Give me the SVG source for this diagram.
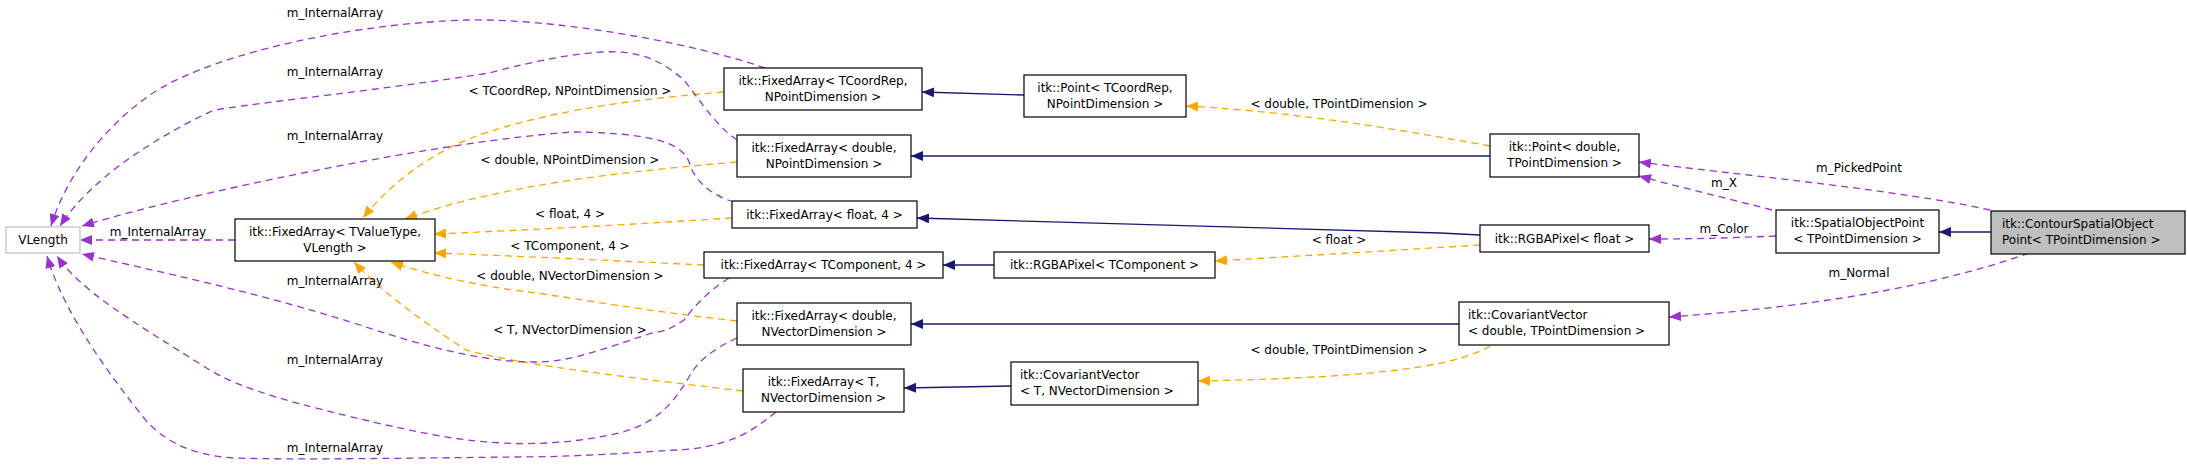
<svg xmlns="http://www.w3.org/2000/svg" width="2187" height="465" viewBox="0 0 2187 465">
<style>
text{font-family:"DejaVu Sans",sans-serif;font-size:12px;fill:#000}
.n rect{fill:#fff;stroke:#000;stroke-width:1.2}
.c{text-anchor:middle}
.e path{fill:none;stroke-width:1.3}
.p{stroke:#9a32cd;stroke-dasharray:7,5}
.o{stroke:#ffa500;stroke-dasharray:7,5}
.b{stroke:#191970}
</style>
<defs>
<marker id="mp" markerUnits="userSpaceOnUse" markerWidth="13" markerHeight="10" refX="12" refY="5" orient="auto"><path d="M0,0L12,5L0,10z" fill="#9a32cd"/></marker>
<marker id="mo" markerUnits="userSpaceOnUse" markerWidth="13" markerHeight="10" refX="12" refY="5" orient="auto"><path d="M0,0L12,5L0,10z" fill="#ffa500"/></marker>
<marker id="mb" markerUnits="userSpaceOnUse" markerWidth="13" markerHeight="10" refX="12" refY="5" orient="auto"><path d="M0,0L12,5L0,10z" fill="#191970"/></marker>
</defs>
<g class="e" id="edges">
<path class="b" marker-end="url(#mb)" d="M1024,95L922,92"/>
<path class="b" marker-end="url(#mb)" d="M1490,156L911,156"/>
<path class="b" marker-end="url(#mb)" d="M1480,235L1440,233L917,218"/>
<path class="b" marker-end="url(#mb)" d="M994,265L943,265"/>
<path class="b" marker-end="url(#mb)" d="M1459,324L911,324"/>
<path class="b" marker-end="url(#mb)" d="M1011,386L904,388"/>
<path class="b" marker-end="url(#mb)" d="M1991,232L1939,232"/>
<path class="o" marker-end="url(#mo)" d="M724,92C620,100 530,115 466,140C420,160 385,190 363,218"/>
<path class="o" marker-end="url(#mo)" d="M737,162C620,172 500,185 405,219"/>
<path class="o" marker-end="url(#mo)" d="M732,218C640,224 530,230 434,234"/>
<path class="o" marker-end="url(#mo)" d="M704,265C620,261 520,256 434,253"/>
<path class="o" marker-end="url(#mo)" d="M737,321C620,308 560,295 512,290C460,282 420,272 391,262"/>
<path class="o" marker-end="url(#mo)" d="M743,391C650,380 520,365 466,350C420,320 380,290 354,262"/>
<path class="o" marker-end="url(#mo)" d="M1490,146C1400,130 1300,112 1186,106"/>
<path class="o" marker-end="url(#mo)" d="M1480,245C1400,250 1300,256 1215,261"/>
<path class="o" marker-end="url(#mo)" d="M1490,346C1450,370 1350,378 1198,381"/>
<path class="p" marker-end="url(#mp)" d="M1990,210C1900,190 1740,175 1639,162"/>
<path class="p" marker-end="url(#mp)" d="M1772,210C1726,198 1683,188 1639,176"/>
<path class="p" marker-end="url(#mp)" d="M1776,236C1726,238 1697,239 1649,239"/>
<path class="p" marker-end="url(#mp)" d="M2029,253C1954,280 1840,305 1669,317"/>
<path class="p" marker-end="url(#mp)" d="M235,240L80,240"/>
<path class="p" marker-end="url(#mp)" d="M765,68C700,45 560,18 466,20C330,25 200,60 150,95C100,130 65,180 51,226"/>
<path class="p" marker-end="url(#mp)" d="M737,140C715,125 700,100 684,80C660,60 640,50 601,52C560,55 520,65 489,73C380,90 280,100 214,110C150,140 90,180 60,226"/>
<path class="p" marker-end="url(#mp)" d="M734,202C710,195 695,180 690,165C685,145 660,133 573,132C450,140 200,190 82,226"/>
<path class="p" marker-end="url(#mp)" d="M729,278C710,290 695,305 684,320C670,330 660,332 652,333C600,350 570,362 535,362C480,362 420,345 360,325C250,290 150,270 82,254"/>
<path class="p" marker-end="url(#mp)" d="M737,338C710,350 695,365 689,377C670,410 650,425 619,433C580,442 540,445 503,443C450,440 420,432 386,425C300,405 240,390 205,367C130,320 80,290 57,256"/>
<path class="p" marker-end="url(#mp)" d="M776,412C760,425 745,435 730,440C710,447 690,450 675,450C600,455 560,457 512,457C420,458 300,460 233,458C190,455 160,440 140,413C90,350 60,300 47,256"/>
</g>
<g id="edge-labels">
<text x="335" y="17" class="c">m_InternalArray</text>
<text x="335" y="76" class="c">m_InternalArray</text>
<text x="335" y="140" class="c">m_InternalArray</text>
<text x="158" y="236" class="c">m_InternalArray</text>
<text x="335" y="285" class="c">m_InternalArray</text>
<text x="335" y="364" class="c">m_InternalArray</text>
<text x="335" y="452" class="c">m_InternalArray</text>
<text x="570" y="95" class="c">&lt; TCoordRep, NPointDimension &gt;</text>
<text x="570" y="164" class="c">&lt; double, NPointDimension &gt;</text>
<text x="570" y="218" class="c">&lt; float, 4 &gt;</text>
<text x="570" y="250" class="c">&lt; TComponent, 4 &gt;</text>
<text x="570" y="280" class="c">&lt; double, NVectorDimension &gt;</text>
<text x="570" y="334" class="c">&lt; T, NVectorDimension &gt;</text>
<text x="1339" y="108" class="c">&lt; double, TPointDimension &gt;</text>
<text x="1339" y="244" class="c">&lt; float &gt;</text>
<text x="1339" y="354" class="c">&lt; double, TPointDimension &gt;</text>
<text x="1859" y="172" class="c">m_PickedPoint</text>
<text x="1724" y="187" class="c">m_X</text>
<text x="1724" y="233" class="c">m_Color</text>
<text x="1859" y="277" class="c">m_Normal</text>
</g>
<g class="n" id="n-vlength"><rect x="6" y="227" width="74" height="26" style="stroke:#bfbfbf"/><text x="43" y="244" class="c">VLength</text></g>
<g class="n" id="n-fa-tvaluetype"><rect x="235" y="219" width="200" height="42"/><text x="335" y="236" class="c">itk::FixedArray&lt; TValueType,</text><text x="335" y="252" class="c">VLength &gt;</text></g>
<g class="n" id="n-fa-tcoordrep"><rect x="724" y="68" width="198" height="42"/><text x="823" y="85" class="c">itk::FixedArray&lt; TCoordRep,</text><text x="823" y="101" class="c">NPointDimension &gt;</text></g>
<g class="n" id="n-point-tcoordrep"><rect x="1024" y="75" width="162" height="42"/><text x="1105" y="92" class="c">itk::Point&lt; TCoordRep,</text><text x="1105" y="108" class="c">NPointDimension &gt;</text></g>
<g class="n" id="n-fa-double-npd"><rect x="737" y="135" width="174" height="42"/><text x="824" y="152" class="c">itk::FixedArray&lt; double,</text><text x="824" y="168" class="c">NPointDimension &gt;</text></g>
<g class="n" id="n-fa-float4"><rect x="732" y="201" width="185" height="27"/><text x="824.5" y="219" class="c">itk::FixedArray&lt; float, 4 &gt;</text></g>
<g class="n" id="n-fa-tcomp4"><rect x="704" y="252" width="239" height="26"/><text x="823.5" y="269" class="c">itk::FixedArray&lt; TComponent, 4 &gt;</text></g>
<g class="n" id="n-rgba-tcomp"><rect x="994" y="252" width="221" height="26"/><text x="1104.5" y="269" class="c">itk::RGBAPixel&lt; TComponent &gt;</text></g>
<g class="n" id="n-fa-double-nvd"><rect x="737" y="303" width="174" height="42"/><text x="824" y="320" class="c">itk::FixedArray&lt; double,</text><text x="824" y="336" class="c">NVectorDimension &gt;</text></g>
<g class="n" id="n-fa-t-nvd"><rect x="743" y="369" width="161" height="43"/><text x="823.5" y="386" class="c">itk::FixedArray&lt; T,</text><text x="823.5" y="402" class="c">NVectorDimension &gt;</text></g>
<g class="n" id="n-cv-t-nvd"><rect x="1011" y="362" width="187" height="43"/><text x="1020" y="379">itk::CovariantVector</text><text x="1020" y="395">&lt; T, NVectorDimension &gt;</text></g>
<g class="n" id="n-point-double"><rect x="1490" y="134" width="149" height="43"/><text x="1564.5" y="151" class="c">itk::Point&lt; double,</text><text x="1564.5" y="167" class="c">TPointDimension &gt;</text></g>
<g class="n" id="n-rgba-float"><rect x="1480" y="225" width="169" height="27"/><text x="1564.5" y="243" class="c">itk::RGBAPixel&lt; float &gt;</text></g>
<g class="n" id="n-cv-double"><rect x="1459" y="302" width="210" height="43"/><text x="1468" y="319">itk::CovariantVector</text><text x="1468" y="335">&lt; double, TPointDimension &gt;</text></g>
<g class="n" id="n-sop"><rect x="1776" y="210" width="163" height="43"/><text x="1857.5" y="227" class="c">itk::SpatialObjectPoint</text><text x="1857.5" y="243" class="c">&lt; TPointDimension &gt;</text></g>
<g class="n" id="n-csop"><rect x="1991" y="211" width="194" height="43" style="fill:#bfbfbf"/><text x="2002" y="228">itk::ContourSpatialObject</text><text x="2002" y="244">Point&lt; TPointDimension &gt;</text></g>
</svg>
